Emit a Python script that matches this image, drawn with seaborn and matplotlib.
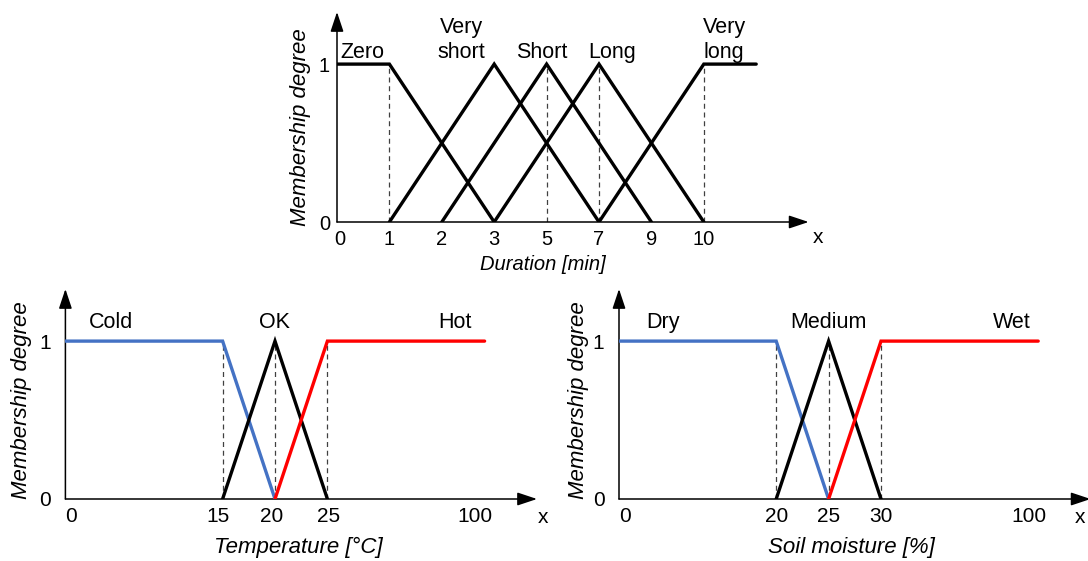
import matplotlib
matplotlib.use('Agg')
import numpy as np
import pandas as pd
import matplotlib.pyplot as plt
import seaborn as sns
from matplotlib.transforms import ScaledTranslation


# Duration memberships (minutes)
dur_ticks = [0, 1, 2, 3, 5, 7, 9, 10]
dur_sets = ['Zero', 'Very\nshort', 'Short', 'Long', 'Very\nlong']
dur_x = [[0, 1, 3], [1, 3, 7], [2, 5, 9], [3, 7, 10], [7, 10, 11]]
dur_y = [[1, 1, 0], [0, 1, 0], [0, 1, 0], [0, 1, 0], [0, 1, 1]]
dur_dashed = [1, 5, 7, 10]

# Temperature memberships (deg C)
temp_ticks = [0, 15, 20, 25, 100]
temp_sets = ['Cold', 'OK', 'Hot']
temp_x = [[0, 15, 20], [15, 20, 25], [20, 25, 100]]
temp_y = [[1, 1, 0], [0, 1, 0], [0, 1, 1]]
temp_dashed = [15, 20, 25]

# Soil moisture memberships (%)
soil_ticks = [0, 20, 25, 30, 100]
soil_sets = ['Dry', 'Medium', 'Wet']
soil_x = [[0, 20, 25], [20, 25, 30], [25, 30, 100]]
soil_y = [[1, 1, 0], [0, 1, 0], [0, 1, 1]]
soil_dashed = [20, 25, 30]

set_colors3 = ['#4472C4', 'black', '#FF0000']

sns.set_theme(style='white')
plt.rcParams['font.family'] = ['Liberation Sans', 'DejaVu Sans']
plt.rcParams['text.color'] = 'black'

fig = plt.figure(figsize=(10.88, 5.61), dpi=100)


def make_axes(rect, ticks, extra, ylab_pad, fs):
    # schematic axis: breakpoints spaced evenly, like the hand drawn figure
    vals = list(ticks) + extra
    if len(ticks) == 5:
        pos = [0, 3, 4, 5, 8, 9]
    else:
        pos = list(range(len(vals)))
    ax = fig.add_axes(rect)
    ax.set_xscale('function', functions=(lambda v: np.interp(v, vals, pos),
                                         lambda p: np.interp(p, pos, vals)))
    ax.set_xlim(vals[0], vals[-1])
    ax.set_ylim(0, 1.33)
    for s in ax.spines.values():
        s.set_visible(False)
    ax.set_xticks(ticks)
    ax.set_xticklabels([str(t) for t in ticks])
    ax.set_yticks([0, 1])
    ax.set_yticklabels(['0', '1'])
    ax.tick_params(axis='x', length=0, pad=6.0, labelsize=fs, colors='black')
    ax.tick_params(axis='y', length=0, pad=ylab_pad, labelsize=fs, colors='black')
    ax.grid(False)
    arrow = dict(arrowstyle='-|>,head_length=1.2,head_width=0.4', color='black',
                 lw=1.1, shrinkA=0, shrinkB=0, mutation_scale=10)
    ax.annotate('', xy=(1, 0), xytext=(0, 0), xycoords='axes fraction',
                textcoords='axes fraction', arrowprops=arrow, annotation_clip=False)
    ax.annotate('', xy=(0, 1), xytext=(0, 0), xycoords='axes fraction',
                textcoords='axes fraction', arrowprops=arrow, annotation_clip=False)
    return ax


def shift_labels(ax, offsets):
    for lbl, dx in zip(ax.get_xticklabels(), offsets):
        lbl.set_transform(lbl.get_transform() + ScaledTranslation(dx / 72, 0, fig.dpi_scale_trans))


def draw_sets(ax, xs, ys, colors, dashed):
    ax.vlines(dashed, 0, 1, colors='#404040', linestyles=(0, (4, 3)), lw=0.9, zorder=1)
    for x, y, c in zip(xs, ys, colors):
        df = pd.DataFrame({'x': x, 'y': y})
        sns.lineplot(data=df, x='x', y='y', ax=ax, color=c, lw=2.4, sort=False,
                     estimator=None, solid_joinstyle='miter', zorder=3)
    ax.set_xlabel('')
    ax.set_ylabel('')


W = 471.6 / 1088
H = 210 / 561

# top: duration
ax1 = make_axes([337 / 1088, (561 - 222) / 561, W, H], dur_ticks, [11, 12], 5, 14.5)
draw_sets(ax1, dur_x, dur_y, ['black'] * 5, dur_dashed)
for name, fx in zip(dur_sets, [0.053, 0.263, 0.434, 0.584, 0.821]):
    ax1.text(fx, 1.01, name, transform=ax1.get_yaxis_transform(), ha='center',
             va='bottom', fontsize=15.5, linespacing=1.2)
shift_labels(ax1, [2, 0, 0, 0, 0, 0, 0, 0])
ax1.text(1.02, -0.076, 'x', transform=ax1.transAxes, ha='center', va='center', fontsize=15)
ax1.text(0.437, -0.2, 'Duration [min]', transform=ax1.transAxes, ha='center',
         va='center', fontsize=14.5, style='italic')
ax1.text(-0.077, 0.45, 'Membership degree', transform=ax1.transAxes, ha='center',
         va='center', rotation=90, fontsize=16, style='italic')

# bottom left: temperature
ax2 = make_axes([65.4 / 1088, (561 - 499) / 561, W, H], temp_ticks, [125], 10.5, 15)
draw_sets(ax2, temp_x, temp_y, set_colors3, temp_dashed)
for name, fx in zip(temp_sets, [0.096, 0.444, 0.826]):
    ax2.text(fx, 1.05, name, transform=ax2.get_yaxis_transform(), ha='center',
             va='bottom', fontsize=15.5)
shift_labels(ax2, [4.3, -3, -2.5, 1, -7])
ax2.text(1.013, -0.086, 'x', transform=ax2.transAxes, ha='center', va='center', fontsize=15)
ax2.text(0.493, -0.233, 'Temperature [°C]', transform=ax2.transAxes, ha='center',
         va='center', fontsize=16, style='italic')
ax2.text(-0.094, 0.47, 'Membership degree', transform=ax2.transAxes, ha='center',
         va='center', rotation=90, fontsize=16, style='italic')

# bottom right: soil moisture
ax3 = make_axes([619 / 1088, (561 - 499) / 561, W, H], soil_ticks, [125], 10.5, 15)
draw_sets(ax3, soil_x, soil_y, set_colors3, soil_dashed)
for name, fx in zip(soil_sets, [0.093, 0.444, 0.833]):
    ax3.text(fx, 1.05, name, transform=ax3.get_yaxis_transform(), ha='center',
             va='bottom', fontsize=15.5)
shift_labels(ax3, [4.3, 0, 0, 0, -7])
ax3.text(0.977, -0.086, 'x', transform=ax3.transAxes, ha='center', va='center', fontsize=15)
ax3.text(0.493, -0.233, 'Soil moisture [%]', transform=ax3.transAxes, ha='center',
         va='center', fontsize=16, style='italic')
ax3.text(-0.086, 0.47, 'Membership degree', transform=ax3.transAxes, ha='center',
         va='center', rotation=90, fontsize=16, style='italic')

fig.savefig('out.png', dpi=100, facecolor='white')
